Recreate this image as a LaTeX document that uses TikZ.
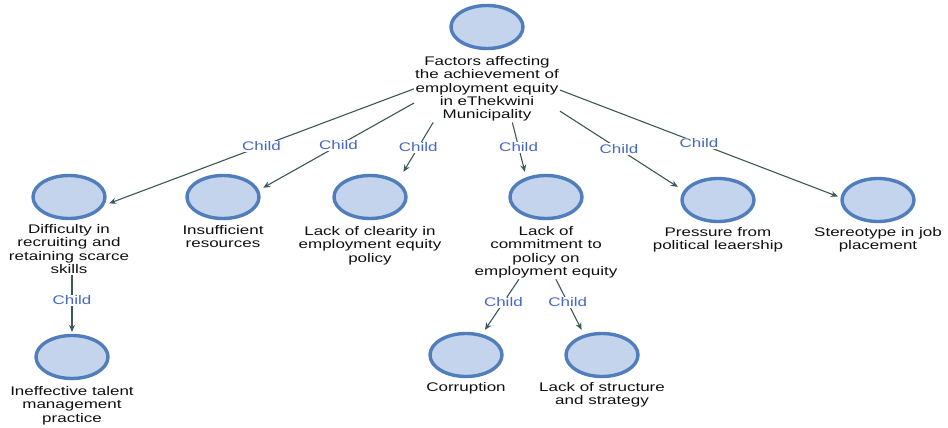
\documentclass[tikz,border=0pt]{standalone}
\usepackage{fontspec}
\setmainfont[FakeStretch=1.36]{Liberation Sans}
\usetikzlibrary{arrows.meta,positioning}
\definecolor{cfill}{RGB}{196,212,236}
\definecolor{cborder}{RGB}{80,126,188}
\definecolor{edgecol}{RGB}{58,88,88}
\definecolor{childcol}{RGB}{70,104,196}
\definecolor{txtcol}{RGB}{15,15,15}
\begin{document}
\begin{tikzpicture}[x=1pt,y=-1pt,
  circ/.style={rectangle, minimum width=80pt, minimum height=50pt, inner sep=0pt, fill=white,
    path picture={\draw[line width=3.4pt,draw=cborder,fill=cfill] (path picture bounding box.center) ellipse [x radius=36pt, y radius=21.5pt];}},
  txt/.style={align=center, inner sep=1pt, text=txtcol, font=\fontsize{12.5}{13.3}\selectfont},
  conn/.style={draw=edgecol, line width=1.1pt, -{Stealth[length=7pt,width=6pt]}},
  lbl/.style={fill=white, inner sep=1pt, text=childcol, font=\fontsize{12.5}{13}\selectfont}]
\useasboundingbox (0,0) rectangle (948,428);

% nodes
\node[circ] (c0) at (487,27) {};
\node[txt, below=3pt of c0] (root) {Factors affecting\\the achievement of\\employment equity\\in eThekwini\\Municipality};

\node[circ] (c1) at (69,197) {};
\node[txt, below=1pt of c1] (t1) {Difficulty in\\recruiting and\\retaining scarce\\skills};
\node[circ] (c2) at (223,197) {};
\node[txt, below=2pt of c2] (t2) {Insufficient\\resources};
\node[circ] (c3) at (370,197) {};
\node[txt, below=3pt of c3] (t3) {Lack of clearity in\\employment equity\\policy};
\node[circ] (c4) at (546,197) {};
\node[txt, below=3pt of c4] (t4) {Lack of\\commitment to\\policy on\\employment equity};
\node[circ] (c5) at (718,200) {};
\node[txt, below=1pt of c5] (t5) {Pressure from\\political leaership};
\node[circ] (c6) at (878,200) {};
\node[txt, below=1pt of c6] (t6) {Stereotype in job\\placement};

\node[circ] (c7) at (72,357) {};
\node[txt, below=3pt of c7] (t7) {Ineffective talent\\management\\practice};
\node[circ] (c8) at (466,355) {};
\node[txt, below=1pt of c8] (t8) {Corruption};
\node[circ] (c9) at (602,355) {};
\node[txt, below=1pt of c9] (t9) {Lack of structure\\and strategy};

% connectors
\draw[conn] (root.180) -- node[lbl] (l1) {Child} (c1.351);
\draw[conn] (root.191) -- node[lbl] (l2) {Child} (c2.13);
\draw[conn] (root.212) -- node[lbl] (l3) {Child} (c3.37);
\draw[conn] (root.307) -- node[lbl] (l4) {Child} (c4.130);
\draw[conn] (root.343) -- node[lbl] (l5) {Child} (c5.162);
\draw[conn] (root.359) -- node[lbl] (l6) {Child} (c6.175);
\draw[conn] (t1.south -| c7.north) -- node[lbl,pos=0.45] (l7) {Child} (c7.north);
\draw[conn] (t4.225) -- node[lbl,pos=0.46] (l8) {Child} (c8.53);
\draw[conn] (t4.290) -- node[lbl,pos=0.46] (l9) {Child} (c9.129);
\end{tikzpicture}
\end{document}
